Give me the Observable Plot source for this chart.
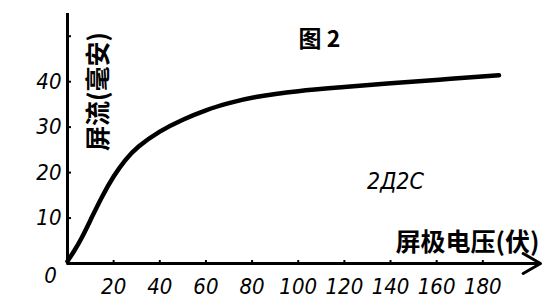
<!DOCTYPE html>
<html>
<head>
<meta charset="utf-8">
<script src="https://cdn.jsdelivr.net/npm/d3@7"></script>
<script src="https://cdn.jsdelivr.net/npm/@observablehq/plot@0.6"></script>
<style>
  html, body { margin: 0; padding: 0; background: #fff; }
  .num text { font-style: italic; }
</style>
</head>
<body>
<div id="chart"></div>
<script>
// Plate voltage (V) and plate current (mA)
const voltage = [0, 3, 6, 10, 15, 20, 25, 30, 40, 50, 60, 70, 80, 100, 120, 140, 160, 187];
const current = [0.5, 2.8, 5.4, 9.6, 14.8, 19.3, 22.8, 25.6, 29.2, 31.7, 33.8, 35.3, 36.6, 38.0, 38.8, 39.7, 40.4, 41.4];

const xTicks = [20, 40, 60, 80, 100, 120, 140, 160, 180];
const xTickLabels = ["20", "40", "60", "80", "100", "120", "140", "160", "180"];
const yTicks = [10, 20, 30, 40, 50];
const yTickLabels = ["10", "20", "30", "40", ""];
const xDomain = [0, 205];
const yDomain = [0, 55];

const titleText = "图 2";
const tubeText = "2Д2С";
const xLabel = "屏极电压(伏)";
const yLabel = "屏流(毫安)";
const originLabel = "0";

const data = voltage.map((v, i) => ({v, i: current[i]}));

const numFont = "'Liberation Sans Narrow', 'DejaVu Sans Condensed', sans-serif";
const cjkFont = "'Noto Sans CJK SC', sans-serif";

const chart = Plot.plot({
  width: 553,
  height: 307,
  marginLeft: 67,
  marginRight: 13,
  marginTop: 13,
  marginBottom: 44,
  style: {background: "#fff", color: "#000"},
  x: {domain: xDomain},
  y: {domain: yDomain},
  marks: [
    Plot.axisY({
      ticks: yTicks,
      tickFormat: (d) => yTickLabels[yTicks.indexOf(d)],
      tickSize: -4,
      tickPadding: 10,
      fontSize: 22,
      fontFamily: numFont,
      className: "num",
      strokeWidth: 2,
      label: null
    }),
    Plot.axisX({
      ticks: xTicks,
      tickFormat: (d) => xTickLabels[xTicks.indexOf(d)],
      tickSize: -3,
      tickPadding: 18,
      fontSize: 22,
      fontFamily: numFont,
      className: "num",
      strokeWidth: 2,
      label: null
    }),
    Plot.ruleX([0], {strokeWidth: 3}),
    Plot.arrow([0], {x1: xDomain[0], x2: xDomain[1], y1: 0, y2: 0, strokeWidth: 3, headLength: 10, bend: 0}),
    Plot.line(data, {x: "v", y: "i", curve: "basis", strokeWidth: 4.5, stroke: "#000", strokeLinecap: "round"}),
    Plot.text([originLabel], {frameAnchor: "bottom-left", dx: -17, dy: 19, fontSize: 22, fontFamily: numFont, fontStyle: "italic", textAnchor: "middle"}),
    Plot.text([titleText], {frameAnchor: "top-left", dx: 252, dy: 17, fontSize: 23, fontFamily: cjkFont, fontWeight: "bold", textAnchor: "middle"}),
    Plot.text([tubeText], {frameAnchor: "top-left", dx: 328, dy: 159, fontSize: 23, fontFamily: numFont, fontStyle: "italic", textAnchor: "middle"}),
    Plot.text([xLabel], {frameAnchor: "top-left", dx: 400, dy: 220, fontSize: 25, fontFamily: cjkFont, fontWeight: "bold", textAnchor: "middle"}),
    Plot.text([yLabel], {frameAnchor: "top-left", dx: 22, dy: 78, rotate: -90, fontSize: 25, fontFamily: cjkFont, fontWeight: "bold", textAnchor: "middle"})
  ]
});
document.getElementById("chart").appendChild(chart);
</script>
</body>
</html>
